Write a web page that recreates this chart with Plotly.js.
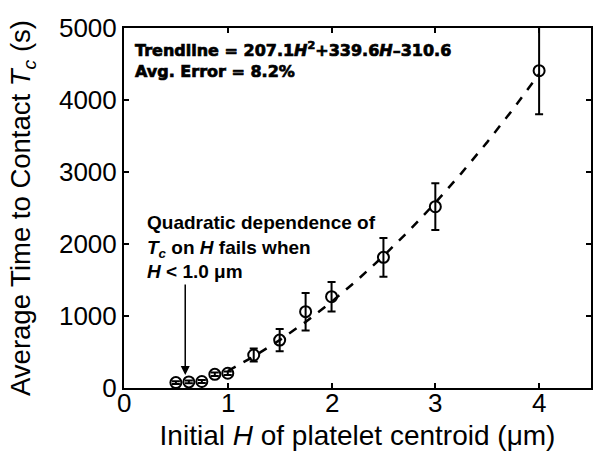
<!DOCTYPE html>
<html>
<head>
<meta charset="utf-8">
<script src="https://cdn.plot.ly/plotly-3.0.1.min.js"></script>
<style>
html,body{margin:0;padding:0;background:#fff;}
#chart{width:607px;height:462px;}
g.annotation[data-index="5"] text{stroke:#000;stroke-width:0.7px;}
</style>
</head>
<body>
<div id="chart"></div>
<script>
const H = [0.5, 0.625, 0.75, 0.875, 1.0, 1.25, 1.5, 1.75, 2.0, 2.5, 3.0, 4.0];
const Tc = [75, 85, 90, 190, 205, 458, 665, 1060, 1268, 1815, 2518, 4407];
const TcErr = [20, 20, 20, 25, 25, 90, 155, 260, 205, 270, 325, 606];
// Trendline values
const trendH = [1.0, 1.25, 1.5, 1.75, 2.0, 2.25, 2.5, 2.75, 3.0, 3.25, 3.5, 3.75, 4.0];
const trendT = [236, 438, 665, 918, 1197, 1502, 1833, 2190, 2572, 2981, 3415, 3875, 4361];
const xTicks = [0, 1, 2, 3, 4];
const xTickText = ['0', '1', '2', '3', '4'];
const yTicks = [0, 1000, 2000, 3000, 4000, 5000];

const font = 'Liberation Sans, Arial, sans-serif';
const heavy = 'DejaVu Sans, Liberation Sans, sans-serif';
const traces = [
  {x: trendH, y: trendT, mode: 'lines', type: 'scatter',
   line: {color: 'black', width: 2.5, dash: 'dash'}, hoverinfo: 'skip'},
  {x: H, y: Tc, mode: 'markers', type: 'scatter',
   marker: {symbol: 'circle-open', size: 11, color: 'black', line: {width: 2, color: 'black'}},
   error_y: {type: 'data', array: TcErr, visible: true, color: 'black', thickness: 2, width: 4}}
];
// x tick labels sit close under the axis, as in the reference
const xTickAnn = xTicks.map((v, i) => ({
  xref: 'x', yref: 'paper', x: v, y: -0.042, xanchor: 'center', yanchor: 'middle',
  showarrow: false, text: xTickText[i], font: {size: 26, family: font}
}));
const layout = {
  width: 607, height: 462,
  margin: {l: 124, r: 16, t: 28, b: 74},
  paper_bgcolor: 'white', plot_bgcolor: 'white',
  showlegend: false,
  font: {family: font, color: 'black'},
  xaxis: {range: [0, 4.5], tickvals: xTicks, showticklabels: false,
    ticks: 'inside', ticklen: 5, tickwidth: 2, tickcolor: 'black',
    showline: true, linewidth: 2, linecolor: 'black', mirror: 'ticks',
    showgrid: false, zeroline: false,
    title: {text: 'Initial <i>H</i> of platelet centroid (μm)', font: {size: 28, family: font}, standoff: 36}},
  yaxis: {range: [0, 5000], tickvals: yTicks, ticktext: yTicks.map(String),
    ticks: 'inside', ticklen: 5, tickwidth: 2, tickcolor: 'black',
    showline: true, linewidth: 2, linecolor: 'black', mirror: 'ticks',
    showgrid: false, zeroline: false, tickfont: {size: 26, family: font},
    title: {text: 'Average Time to Contact <i>T</i><sub><i>c</i></sub> (s)', font: {size: 27.5, family: font}, standoff: 20}},
  annotations: xTickAnn.concat([
    {xref: 'paper', yref: 'paper', x: 0.019, y: 0.912, xanchor: 'left', yanchor: 'middle', showarrow: false, align: 'left',
     text: '<b>Trendline = 207.1<i>H</i><sup>2</sup>+339.6<i>H</i>–310.6</b><br><b>Avg. Error = 8.2%</b>', font: {size: 16, family: heavy}},
    {xref: 'paper', yref: 'paper', x: 0.045, y: 0.392, xanchor: 'left', yanchor: 'middle', showarrow: false, align: 'left',
     text: '<b>Quadratic dependence of</b><br><b><i>T</i><sub><i>c</i></sub> on <i>H</i> fails when</b><br><b><i>H</i> &lt; 1.0 μm</b>', font: {size: 19, family: font}},
    {xref: 'x', yref: 'y', x: 0.59, y: 180, axref: 'x', ayref: 'y', ax: 0.59, ay: 1460,
     showarrow: true, arrowhead: 2, arrowsize: 1.2, arrowwidth: 1.5, arrowcolor: 'black', text: ''}
  ])
};
Plotly.newPlot('chart', traces, layout, {staticPlot: true});
</script>
</body>
</html>
